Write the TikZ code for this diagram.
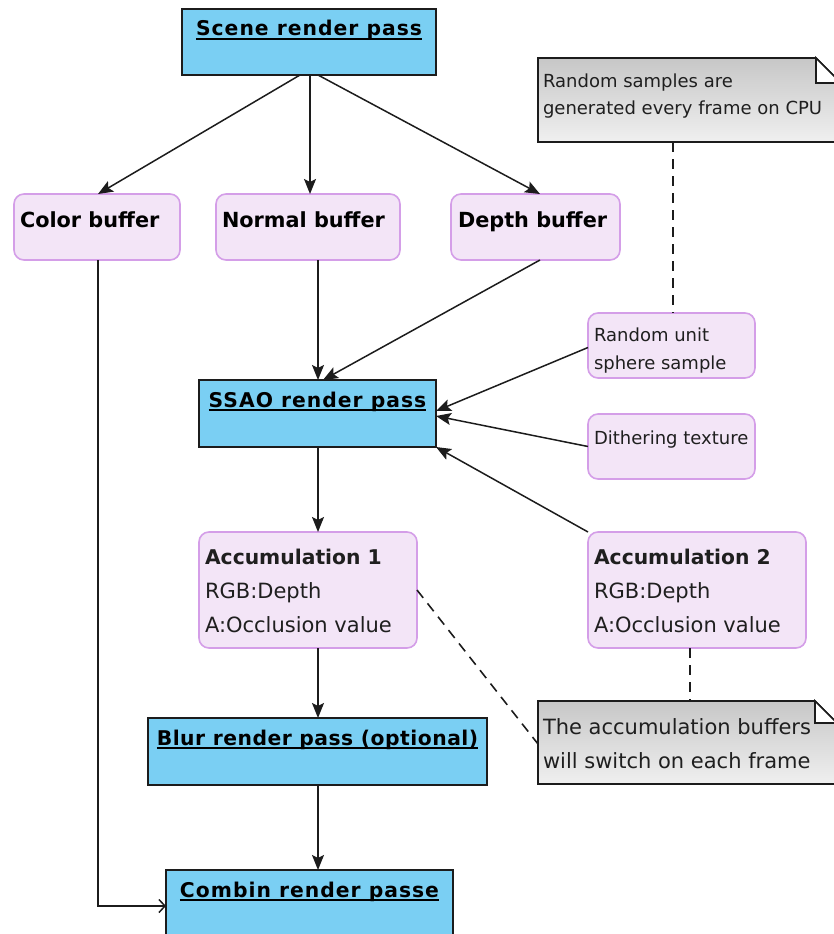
\documentclass[tikz,border=0pt]{standalone}
\usepackage{fontspec}
\setmainfont{DejaVu Sans}
\newfontfamily\hdrfont{DejaVu Sans}[LetterSpace=5]
\newfontfamily\hdrtightfont{DejaVu Sans}[LetterSpace=2.5]
\usetikzlibrary{arrows.meta,calc}

\definecolor{passblue}{RGB}{122,207,243}
\definecolor{buffill}{RGB}{243,229,247}
\definecolor{bufline}{RGB}{212,158,232}
\definecolor{inkline}{RGB}{28,28,28}

% stacked lines, baseline of the node = baseline of the first line
\newcommand\twolines[2]{\vtop{\hbox{#1}\hbox{#2}}}
\newcommand\threelines[3]{\vtop{\hbox{#1}\hbox{#2}\hbox{#3}}}

% folded-corner note drawn around an invisible frame node
\newcommand\notesheet[2]{%
  \path[notebody] (#1.north west) -- ($(#1.north east)+(-#2,0)$)
    -- ($(#1.north east)+(0,#2)$) -- (#1.south east) -- (#1.south west) -- cycle;
  \path[notefold] ($(#1.north east)+(-#2,0)$) -- ($(#1.north east)+(-#2,#2)$)
    -- ($(#1.north east)+(0,#2)$) -- cycle;
}

\tikzset{
  every node/.style={inner sep=0pt, outer sep=0pt},
  passbox/.style={draw=inkline, line width=1.6pt, fill=passblue, anchor=north west},
  bufbox/.style={draw=bufline, line width=1.6pt, fill=buffill, rounded corners=10pt, anchor=north west},
  noteframe/.style={anchor=north west},
  notebody/.style={draw=inkline, line width=1.6pt, top color=black!22, bottom color=black!6},
  notefold/.style={draw=inkline, line width=1.6pt, fill=white},
  hdr/.style={font=\hdrfont\bfseries\fontsize{20.3}{24}\selectfont, anchor=base},
  hdrtight/.style={font=\hdrtightfont\bfseries\fontsize{20.3}{24}\selectfont, anchor=base},
  boldtxt/.style={font=\bfseries\fontsize{20.8}{24}\selectfont, anchor=base west},
  smalltxt/.style={font=\fontsize{18}{28}\selectfont, anchor=base west, text=black!88},
  bigtxt/.style={font=\fontsize{21}{34}\selectfont, anchor=base west, text=black!88},
  uline/.style={draw=black, line width=1.6pt},
  flow/.style={draw=inkline, line width=1.5pt, -{Stealth[length=15pt,width=12pt,inset=3pt]}},
  openflow/.style={draw=inkline, line width=1.5pt, -{Straight Barb[length=6pt,width=13pt]}},
  notelink/.style={draw=inkline, line width=1.6pt, dash pattern=on 10pt off 7pt},
}

\begin{document}
\begin{tikzpicture}[x=1pt,y=-1pt]
\useasboundingbox (0,0) rectangle (833,934);

% ---- boxes ----
\node[passbox, minimum width=254pt, minimum height=66pt] (scene) at (182,9) {};
\node[bufbox, minimum width=166pt, minimum height=66pt] (color) at (14,194) {};
\node[bufbox, minimum width=184pt, minimum height=66pt] (normal) at (216,194) {};
\node[bufbox, minimum width=169pt, minimum height=66pt] (depth) at (451,194) {};
\node[bufbox, minimum width=167pt, minimum height=65pt] (random) at (588,313) {};
\node[passbox, minimum width=237pt, minimum height=67pt] (ssao) at (199,380) {};
\node[bufbox, minimum width=167pt, minimum height=65pt] (dither) at (588,414) {};
\node[bufbox, minimum width=218pt, minimum height=116pt] (acc1) at (199,532) {};
\node[bufbox, minimum width=218pt, minimum height=116pt] (acc2) at (588,532) {};
\node[passbox, minimum width=339pt, minimum height=67pt] (blur) at (148,718) {};
\node[passbox, minimum width=287pt, minimum height=80pt] (combin) at (166,870) {};

% ---- notes ----
\node[noteframe, minimum width=303pt, minimum height=84pt] (note1) at (538,58) {};
\notesheet{note1}{25}
\node[noteframe, minimum width=299pt, minimum height=83pt] (note2) at (538,701) {};
\notesheet{note2}{22}

% ---- texts ----
\node[hdr] (scene-t) at ($(scene.north)+(0,27)$) {Scene render pass};
\node[hdr] (ssao-t) at ($(ssao.north)+(0,27)$) {SSAO render pass};
\node[hdrtight] (blur-t) at ($(blur.north)+(0,27)$) {Blur render pass (optional)};
\node[hdr] (combin-t) at ($(combin.north)+(0,27)$) {Combin render passe};
\foreach \t in {scene-t,ssao-t,blur-t,combin-t}
  \draw[uline] ($(\t.base west)+(0,3)$) -- ($(\t.base east)+(0,3)$);

\node[boldtxt] (color-t) at ($(color.north west)+(6,33)$) {Color buffer};
\node[boldtxt] (normal-t) at ($(normal.north west)+(6,33)$) {Normal buffer};
\node[boldtxt] (depth-t) at ($(depth.north west)+(7,33)$) {Depth buffer};

\node[smalltxt] (random-t) at ($(random.north west)+(6,28)$) {\twolines{Random unit}{sphere sample}};
\node[smalltxt] (dither-t) at ($(dither.north west)+(6,30)$) {Dithering texture};
\node[smalltxt] (note1-t) at ($(note1.north west)+(5,29)$) {\twolines{Random samples are}{generated every frame on CPU}};

\node[bigtxt] (acc1-t) at ($(acc1.north west)+(6,32)$)
  {\threelines{\bfseries\fontsize{20.3}{34}\selectfont Accumulation 1}{RGB:Depth}{A:Occlusion value}};
\node[bigtxt] (acc2-t) at ($(acc2.north west)+(6,32)$)
  {\threelines{\bfseries\fontsize{20.3}{34}\selectfont Accumulation 2}{RGB:Depth}{A:Occlusion value}};
\node[bigtxt] (note2-t) at ($(note2.north west)+(5,33)$) {\twolines{The accumulation buffers}{will switch on each frame}};

% ---- connectors ----
\draw[flow] ($(scene.south west)+(118,0)$) -- ($(color.north west)+(84,0)$);
\draw[flow] ($(scene.south west)+(128,0)$) -- ($(normal.north west)+(94,0)$);
\draw[flow] ($(scene.south west)+(136,0)$) -- ($(depth.north west)+(89,0)$);
\draw[openflow] ($(color.south west)+(84,0)$) |- ($(combin.north west)+(0,36)$);
\draw[flow] ($(normal.south west)+(102,0)$) -- ($(ssao.north west)+(119,0)$);
\draw[flow] ($(depth.south west)+(89,0)$) -- ($(ssao.north west)+(124,0)$);
\draw[flow] ($(random.west)+(0,2)$) -- ($(ssao.north east)+(0,31)$);
\draw[flow] (dither.west) -- ($(ssao.north east)+(0,36)$);
\draw[flow] (acc2.north west) -- (ssao.south east);
\draw[flow] ($(ssao.south west)+(119,0)$) -- ($(acc1.north west)+(119,0)$);
\draw[flow] ($(acc1.south west)+(119,0)$) -- ($(blur.north west)+(170,0)$);
\draw[flow] ($(blur.south west)+(170,0)$) -- ($(combin.north west)+(152,0)$);

\draw[notelink] ($(note1.south west)+(135,0)$) -- ($(random.north west)+(85,0)$);
\draw[notelink] ($(acc1.north east)+(0,58)$) -- ($(note2.north west)+(0,43)$);
\draw[notelink] ($(acc2.south west)+(102,0)$) -- ($(note2.north west)+(152,0)$);
\end{tikzpicture}
\end{document}
